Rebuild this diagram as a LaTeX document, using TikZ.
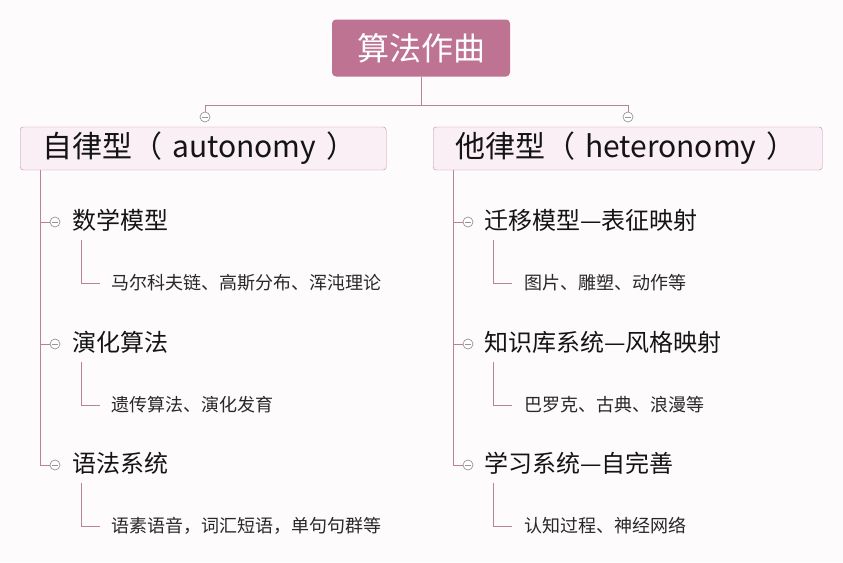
\documentclass[tikz,border=0pt]{standalone}
\usepackage{fontspec}
\setmainfont{Noto Sans CJK SC}
\usepackage{tikz}
\usetikzlibrary{positioning,calc}
\definecolor{malva}{RGB}{191,115,147}
\definecolor{rosaclaro}{RGB}{249,239,244}
\definecolor{borde}{RGB}{196,140,165}
\definecolor{linea}{RGB}{185,130,155}
\definecolor{grisc}{RGB}{150,150,150}
\definecolor{fondo}{RGB}{253,251,252}
\definecolor{texto}{RGB}{20,20,20}
\definecolor{textosub}{RGB}{40,40,40}

\begin{document}
\begin{tikzpicture}[x=1pt, y=-1pt,
  raiz/.style={fill=malva, rounded corners=4pt, minimum width=178pt,
               minimum height=57pt, text=white, font=\fontsize{32}{36}\selectfont},
  rama/.style={draw=borde, fill=rosaclaro, rounded corners=3pt, anchor=west,
               minimum height=43pt, inner xsep=22pt, align=left,
               text=texto, font=\fontsize{30}{34}\selectfont},
  hijo/.style={anchor=west, inner sep=0pt, text=texto,
               font=\fontsize{24}{28}\selectfont},
  detalle/.style={anchor=west, inner sep=0pt, text=textosub,
                  font=\fontsize{18}{21}\selectfont},
  conector/.style={draw=linea, line width=0.8pt},
  menos/.style={circle, draw=grisc, fill=white, line width=0.7pt,
                minimum size=10pt, inner sep=0pt,
                path picture={\draw[grisc, line width=0.7pt]
                  ([xshift=2pt]path picture bounding box.west) --
                  ([xshift=-2pt]path picture bounding box.east);}}]
  \useasboundingbox[fill=fondo] (0,0) rectangle (843,562);

  % raiz y ramas principales
  \node[raiz] (raiz) at (421,48) {算法作曲};
  \node[rama, text width=322pt] (auto) at (20,148.5) {自律型（ autonomy ）};
  \node[rama, text width=345pt] (hete) at (433,148.5) {他律型（ heteronomy ）};
  \node[menos] (ma) at (205,117) {};
  \node[menos] (mb) at (628,117) {};
  \coordinate (cruce) at (421,105);
  \draw[conector] (raiz.south) -- (cruce) -| (ma);
  \draw[conector] (cruce) -| (mb);

  % hijos de autonomy
  \node[hijo] (a1) at (72,220) {数学模型};
  \node[hijo] (a2) at (72,342) {演化算法};
  \node[hijo] (a3) at (72,463) {语法系统};
  \node[detalle] (d1) at (111,283) {马尔科夫链、高斯分布、浑沌理论};
  \node[detalle] (d2) at (111,405) {遗传算法、演化发育};
  \node[detalle] (d3) at (111,526) {语素语音，词汇短语，单句句群等};

  % hijos de heteronomy
  \node[hijo] (b1) at (484,220) {迁移模型—表征映射};
  \node[hijo] (b2) at (484,342) {知识库系统—风格映射};
  \node[hijo] (b3) at (484,463) {学习系统—自完善};
  \node[detalle] (e1) at (524,283) {图片、雕塑、动作等};
  \node[detalle] (e2) at (524,405) {巴罗克、古典、浪漫等};
  \node[detalle] (e3) at (524,526) {认知过程、神经网络};

  \foreach \i in {1,2,3} {
    \node[menos] (ma\i) at ($(a\i.west)+(-17,2)$) {};
    \node[menos] (mb\i) at ($(b\i.west)+(-16,2)$) {};
    \draw[conector] ($(a\i.west)+(9,20)$) |- ($(d\i.west)+(-11,0)$);
    \draw[conector] ($(b\i.west)+(9,20)$) |- ($(e\i.west)+(-12,0)$);
  }
  \draw[conector] ([xshift=20pt]auto.south west) |- (ma3);
  \draw[conector] ([xshift=20pt]hete.south west) |- (mb3);
  \draw[conector] (ma1 -| auto.south west) ++(20,0) -- (ma1);
  \draw[conector] (ma2 -| auto.south west) ++(20,0) -- (ma2);
  \draw[conector] (mb1 -| hete.south west) ++(20,0) -- (mb1);
  \draw[conector] (mb2 -| hete.south west) ++(20,0) -- (mb2);
\end{tikzpicture}
\end{document}
